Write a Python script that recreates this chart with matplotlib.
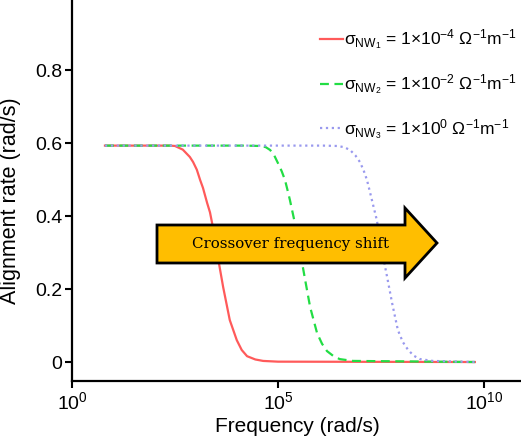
# Alignment rate vs frequency for three nanowire conductivities
# values (log10 of frequency, rate in rad/s)

import numpy as np
import matplotlib
matplotlib.use("Agg")
import matplotlib.pyplot as plt
from matplotlib.patches import Polygon

plt.rcParams['font.family'] = ['Liberation Sans', 'DejaVu Sans']
plt.rcParams['mathtext.fontset'] = 'custom'
plt.rcParams['mathtext.rm'] = 'Liberation Sans'
plt.rcParams['mathtext.it'] = 'Liberation Sans:italic'
plt.rcParams['mathtext.bf'] = 'Liberation Sans:bold'

# sigma_NW = 1e-4
logf_1 = [0.80, 2.00, 2.38, 2.50, 2.69, 2.86, 2.94, 3.03, 3.11, 3.18, 3.28, 3.35, 3.42, 3.54,
          3.67, 3.83, 4.00, 4.12, 4.25, 4.45, 4.64, 5.00, 9.78]
rate_1 = [0.593, 0.593, 0.593, 0.592, 0.582, 0.562, 0.548, 0.527, 0.499, 0.477, 0.436, 0.410, 0.370, 0.288,
          0.205, 0.115, 0.060, 0.033, 0.016, 0.007, 0.003, 0.001, 0.0]
# sigma_NW = 1e-2
logf_2 = [0.80, 4.20, 4.56, 4.70, 4.81, 4.91, 5.00, 5.09, 5.17, 5.23, 5.29, 5.41, 5.53,
          5.66, 5.78, 5.95, 6.07, 6.19, 6.35, 6.50, 6.82, 9.78]
rate_2 = [0.593, 0.593, 0.592, 0.589, 0.581, 0.566, 0.545, 0.523, 0.499, 0.472, 0.444, 0.381, 0.307,
          0.225, 0.151, 0.079, 0.050, 0.030, 0.016, 0.008, 0.003, 0.0]
# sigma_NW = 1e0
logf_3 = [0.80, 6.10, 6.43, 6.60, 6.75, 6.88, 6.99, 7.08, 7.16, 7.22, 7.28, 7.40, 7.52,
          7.65, 7.77, 7.91, 8.03, 8.16, 8.30, 8.45, 8.76, 9.78]
rate_3 = [0.593, 0.593, 0.592, 0.589, 0.581, 0.566, 0.548, 0.525, 0.499, 0.472, 0.444, 0.389, 0.307,
          0.233, 0.162, 0.088, 0.055, 0.033, 0.017, 0.008, 0.003, 0.0]

labels = [r'σ$_{\mathrm{NW}_1}$ = 1×10$^{-4}$ Ω$^{-1}$m$^{-1}$',
          r'σ$_{\mathrm{NW}_2}$ = 1×10$^{-2}$ Ω$^{-1}$m$^{-1}$',
          r'σ$_{\mathrm{NW}_3}$ = 1×10$^{0}$ Ω$^{-1}$m$^{-1}$']

W, H = 521, 437
fig = plt.figure(figsize=(W / 100, H / 100), dpi=100)
ax = fig.add_axes([72 / W, 56 / H, 1 - 72 / W, 1 - 56 / H])

ax.plot(10 ** np.array(logf_1), rate_1, '-', color='#FF5A5A', lw=1.6, label=labels[0])
ax.plot(10 ** np.array(logf_2), rate_2, '--', color='#22DD44', lw=1.6, dashes=(4, 2.5), label=labels[1])
ax.plot(10 ** np.array(logf_3), rate_3, ':', color='#9999EE', lw=1.6, label=labels[2])

ax.set_xscale('log')
ax.set_xlim(1, 10 ** 10.9)
ax.set_ylim(-0.052, 0.992)
ax.set_xticks([1, 1e5, 1e10])
ax.xaxis.set_minor_locator(matplotlib.ticker.NullLocator())
ax.set_yticks([0, 0.2, 0.4, 0.6, 0.8])
ax.set_yticklabels(['0', '0.2', '0.4', '0.6', '0.8'])
ax.tick_params(labelsize=14, width=1.5, length=5, direction='out', pad=2)
for side in ['top', 'right']:
    ax.spines[side].set_visible(False)
for side in ['left', 'bottom']:
    ax.spines[side].set_linewidth(1.6)
ax.set_xlabel('Frequency (rad/s)', fontsize=15)
ax.set_ylabel('Alignment rate (rad/s)', fontsize=15.5)
ax.xaxis.set_label_coords(0.503, -0.095)
ax.yaxis.set_label_coords(-0.114, 0.472)

ax.legend(loc='upper right', frameon=False, fontsize=12.5, handlelength=1.3,
          handletextpad=0.1, labelspacing=1.17, borderaxespad=0.1, borderpad=0.15,
          bbox_to_anchor=(1.0, 0.939))

# big "crossover frequency shift" arrow, in figure pixels
def fp(x, y):
    return (x / W, 1 - y / H)

arrow_pts = [fp(157, 225), fp(405, 225), fp(405, 208), fp(437, 243),
             fp(405, 278), fp(405, 263), fp(157, 263)]
arrow = Polygon(arrow_pts, closed=True, transform=fig.transFigure,
                facecolor='#FFBE00', edgecolor='black', lw=2.0, zorder=5)
fig.patches.append(arrow)
fig.text(290 / W, 1 - 244 / H, 'Crossover frequency shift', family='DejaVu Serif',
         fontsize=10.8, ha='center', va='center', zorder=6)

fig.savefig('out.png', dpi=100)
